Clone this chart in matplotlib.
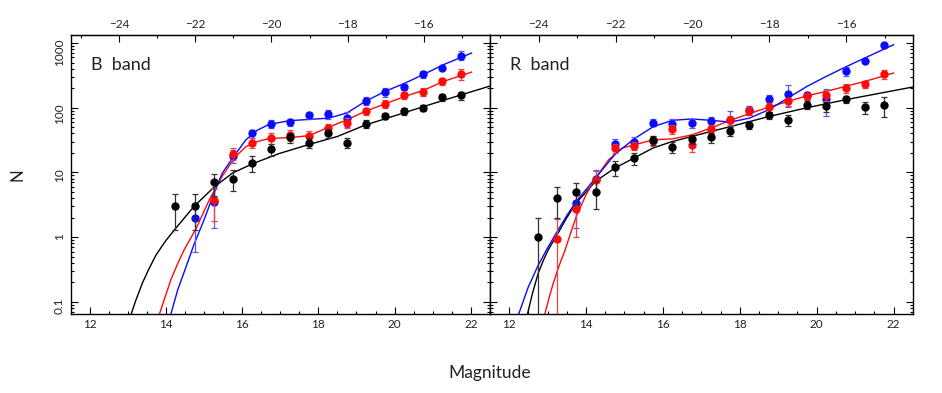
import matplotlib.pyplot as plt
import numpy as np
from matplotlib.ticker import MultipleLocator, LogLocator, NullFormatter, FixedLocator, FuncFormatter

plt.rcParams["font.family"] = ["Lato", "DejaVu Sans"]

# distance modulus linking apparent (bottom) and absolute (top) magnitudes
DM = 36.77

# --- B band data ---
b_black_mag = [14.25, 14.75, 15.25, 15.75, 16.25, 16.75, 17.25, 17.75, 18.25, 18.75,
               19.25, 19.75, 20.25, 20.75, 21.25, 21.75]
b_black_n = [3.0, 3.0, 7.0, 8.0, 14, 23, 35, 28.5, 40, 29, 56, 75, 88, 100, 145, 155]
b_black_err = [1.7, 1.7, 2.6, 2.9, 4, 5, 6, 5, 6, 5, 8, 9, 10, 12, 16, 22]

b_red_mag = [15.25, 15.75, 16.25, 16.75, 17.25, 17.75, 18.25, 18.75, 19.25, 19.75,
             20.25, 20.75, 21.25, 21.75]
b_red_n = [3.8, 19.5, 28.5, 34, 38, 37, 48.5, 59, 88, 115, 158, 178, 255, 331]
b_red_err = [2.0, 4, 5, 6, 7, 6, 8, 10, 12, 16, 20, 25, 32, 60]

b_blue_mag = [14.75, 15.25, 15.75, 16.25, 16.75, 17.25, 17.75, 18.25, 18.75, 19.25,
              19.75, 20.25, 20.75, 21.25, 21.75]
b_blue_n = [2.0, 3.5, 18, 40, 56, 60, 77, 79, 69, 129, 174, 211, 330, 415, 640]
b_blue_err = [1.4, 2.1, 4, 6, 8, 8, 10, 12, 18, 20, 25, 25, 40, 30, 100]

# fitted curves
b_black_fit_m = [13.09, 13.2, 13.39, 13.55, 13.74, 14.0, 14.27, 14.74, 15.27, 15.75, 16.27,
                 16.96, 17.75, 18.5, 19.23, 20.0, 20.97, 21.7, 22.5]
b_black_fit_n = [0.065, 0.102, 0.2, 0.32, 0.53, 0.89, 1.4, 3.0, 6.0, 9.8, 13.6,
                 19.5, 27, 36, 54, 75, 114, 155, 216]

b_blue_fit_m = [14.13, 14.31, 14.53, 14.74, 15.0, 15.25, 15.48, 15.75, 16.1, 16.4, 16.7,
                17.23, 17.75, 18.27, 18.75, 19.23, 19.75, 20.28, 20.8, 21.28, 22.02]
b_blue_fit_n = [0.065, 0.154, 0.35, 0.78, 1.85, 4.6, 9.8, 16.7, 32, 45, 55,
                63, 66, 69, 83, 125, 179, 241, 336, 462, 700]

b_red_fit_m = [13.83, 13.97, 14.13, 14.3, 14.48, 14.79, 15.14, 15.48, 15.83, 16.1, 16.4, 16.7,
               17.23, 17.75, 18.27, 18.75, 19.23, 19.75, 20.28, 20.8, 21.28, 22.02]
b_red_fit_n = [0.065, 0.115, 0.22, 0.38, 0.64, 1.35, 3.8, 8.8, 17.7, 25, 30, 33.5,
               34.5, 37, 50, 65, 88, 115, 150, 190, 255, 355]

# --- R band data ---
r_black_mag = [12.75, 13.25, 13.75, 14.25, 14.75, 15.25, 15.75, 16.25, 16.75, 17.25,
               17.75, 18.25, 18.75, 19.25, 19.75, 20.25, 20.75, 21.25, 21.75]
r_black_n = [1.0, 4.0, 5.0, 5.0, 12, 16.7, 32, 24.7, 33, 35, 44, 55, 76, 65, 111, 105, 136, 102, 111]
r_black_err = [1.0, 2.0, 1.8, 2.3, 3.3, 3.5, 5, 5, 5, 6, 7, 8, 10, 12, 15, 18, 18, 22, 38]

r_red_mag = [13.25, 13.75, 14.25, 14.75, 15.25, 15.75, 16.25, 16.75, 17.25, 17.75,
             18.25, 18.75, 19.25, 19.75, 20.25, 20.75, 21.25, 21.75]
r_red_n = [0.94, 2.75, 7.7, 24, 26, 31, 47, 26.8, 47, 64, 90, 102, 125, 150, 157, 201, 232, 331]
r_red_err = [1.0, 1.75, 2.7, 4, 4, 5, 8, 6, 8, 10, 12, 15, 18, 20, 30, 30, 30, 50]

r_blue_mag = [13.75, 14.25, 14.75, 15.25, 15.75, 16.25, 16.75, 17.25, 17.75, 18.25,
              18.75, 19.25, 19.75, 20.25, 20.75, 21.25, 21.75]
r_blue_n = [3.4, 8.0, 27.5, 30, 59, 57, 58, 63, 65, 93, 136, 163, 155, 135, 373, 532, 918]
r_blue_err = [2.0, 3, 5, 5, 7, 9, 9, 10, 25, 15, 22, 60, 20, 60, 60, 35, 90]

r_black_fit_m = [12.48, 12.6, 12.76, 12.9, 13.02, 13.25, 13.5, 13.75, 14.25, 14.75, 15.25,
                 15.74, 16.2, 16.75, 17.25, 17.75, 18.75, 19.75, 20.75, 22.5]
r_black_fit_n = [0.065, 0.13, 0.28, 0.45, 0.64, 1.09, 2.0, 3.4, 7.3, 11.7, 16.7,
                 23.8, 29.5, 36, 43, 51, 73, 100, 133, 209]

r_blue_fit_m = [12.25, 12.5, 12.76, 13.0, 13.25, 13.5, 13.75, 14.25, 14.75, 15.25, 15.75,
                16.25, 16.75, 17.25, 17.75, 18.25, 18.75, 19.25, 19.75, 20.25, 20.75,
                21.25, 22.0]
r_blue_fit_n = [0.065, 0.17, 0.37, 0.68, 1.22, 2.15, 3.6, 8.2, 19, 33, 51,
                64, 67, 64, 60, 69, 93, 141, 214, 305, 426, 586, 942]

r_red_fit_m = [12.93, 13.04, 13.15, 13.3, 13.46, 13.6, 13.75, 14.0, 14.25, 14.59, 14.94,
               15.37, 15.75, 16.25, 16.75, 17.25, 17.75, 18.25, 18.75, 19.25, 19.75,
               20.25, 20.75, 21.25, 22.0]
r_red_fit_n = [0.065, 0.115, 0.195, 0.36, 0.64, 1.15, 2.1, 4.5, 8.2, 15.7, 23.8,
               27.8, 32, 33, 38, 48.5, 64, 81, 102, 125, 153, 179, 214, 255, 344]

top_ticks = [-24, -22, -20, -18, -16]
y_ticks = [0.1, 1, 10, 100, 1000]

BLUE = "#0a0aff"
RED = "#ff0a0a"
BLACK = "black"
TEXT = "#222222"


def draw_panel(ax, label, blue, red, black, show_ylabels):
    # fits
    ax.plot(black[3], black[4], color=BLACK, lw=1.0, zorder=2)
    ax.plot(red[3], red[4], color=RED, lw=1.0, zorder=2)
    ax.plot(blue[3], blue[4], color=BLUE, lw=1.0, zorder=2)
    # data points, blue under red under black
    for (m, n, e, _, _), col, ecol, z in [
        (blue, BLUE, "#5a5aee", 3),
        (red, RED, "#e84545", 4),
        (black, BLACK, "#333333", 5),
    ]:
        ax.errorbar(m, n, yerr=e, fmt="o", ms=5, color=col, ecolor=ecol,
                    elinewidth=0.9, capsize=2.5, capthick=0.9, zorder=z)

    ax.set_yscale("log")
    ax.set_xlim(11.5, 22.5)
    ax.set_ylim(0.065, 1350)
    ax.xaxis.set_major_locator(MultipleLocator(2))
    ax.xaxis.set_minor_locator(MultipleLocator(0.5))
    ax.yaxis.set_major_locator(FixedLocator(y_ticks))
    ax.yaxis.set_minor_locator(LogLocator(base=10, subs=np.arange(2, 10)))
    ax.yaxis.set_minor_formatter(NullFormatter())
    ax.yaxis.set_major_formatter(FuncFormatter(lambda v, p: f"{v:g}"))
    ax.tick_params(which="both", direction="in", top=False, right=True,
                   labelsize=8.5, labelcolor=TEXT)
    ax.tick_params(which="major", length=5, width=0.8)
    ax.tick_params(which="minor", length=2.5, width=0.8)
    ax.tick_params(axis="y", labelrotation=90, pad=4, labelleft=show_ylabels)
    for s in ax.spines.values():
        s.set_linewidth(1.0)

    top = ax.secondary_xaxis("top", functions=(lambda m: m - DM, lambda M: M + DM))
    top.set_xticks(top_ticks)
    top.set_xticklabels([f"\u2212{abs(t)}" for t in top_ticks])
    top.xaxis.set_minor_locator(MultipleLocator(1))
    top.tick_params(which="both", direction="in", labelsize=8.5, labelcolor=TEXT)
    top.tick_params(which="major", length=5, width=0.8)
    top.tick_params(which="minor", length=2.5, width=0.8)

    ax.text(0.048, 0.875, label, transform=ax.transAxes, fontsize=13,
            color=TEXT, va="baseline", ha="left")


fig = plt.figure(figsize=(9.42, 3.93), dpi=100)
ax_b = fig.add_axes([0.075, 0.201, 0.445, 0.711])
ax_r = fig.add_axes([0.520, 0.201, 0.449, 0.711])

draw_panel(ax_b, "B  band",
           (b_blue_mag, b_blue_n, b_blue_err, b_blue_fit_m, b_blue_fit_n),
           (b_red_mag, b_red_n, b_red_err, b_red_fit_m, b_red_fit_n),
           (b_black_mag, b_black_n, b_black_err, b_black_fit_m, b_black_fit_n),
           True)
draw_panel(ax_r, "R  band",
           (r_blue_mag, r_blue_n, r_blue_err, r_blue_fit_m, r_blue_fit_n),
           (r_red_mag, r_red_n, r_red_err, r_red_fit_m, r_red_fit_n),
           (r_black_mag, r_black_n, r_black_err, r_black_fit_m, r_black_fit_n),
           False)

fig.text(18 / 942, 1 - 175 / 393, "N", rotation=90, fontsize=12,
         color=TEXT, ha="center", va="center")
fig.text(490 / 942, 1 - 373 / 393, "Magnitude", fontsize=12.5,
         color=TEXT, ha="center", va="center")

fig.savefig("out.png", dpi=100)
